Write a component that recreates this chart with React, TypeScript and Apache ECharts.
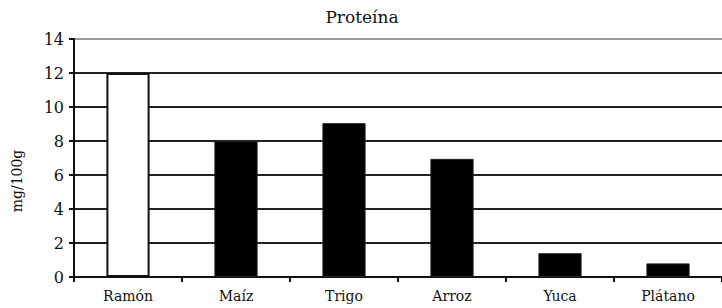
import React, { useEffect, useRef } from "react";
import * as echarts from "echarts";

const categories = ["Ramón", "Maíz", "Trigo", "Arroz", "Yuca", "Plátano"];
const values = [12, 8, 9.05, 6.95, 1.4, 0.8];
const yTicks = [0, 2, 4, 6, 8, 10, 12, 14];
const titleText = "Proteína";
const yName = "mg/100g";

export default function App() {
  const ref = useRef<HTMLDivElement>(null);
  useEffect(() => {
    document.body.style.margin = "0";
    const chart = echarts.init(ref.current!, undefined, { renderer: "svg" });
    const serif = "DejaVu Serif";
    chart.setOption({
      animation: false,
      backgroundColor: "#fff",
      title: {
        text: titleText,
        left: 357,
        textAlign: "center",
        top: 3,
        textStyle: { fontFamily: serif, fontSize: 17, fontWeight: "normal", color: "#111" },
      },
      graphic: [
        {
          type: "text",
          x: 17,
          y: 181,
          rotation: Math.PI / 2,
          style: {
            text: yName,
            fontFamily: serif,
            fontSize: 14,
            fill: "#111",
            align: "center",
            verticalAlign: "middle",
          },
        },
      ],
      grid: { left: 74, top: 39, bottom: 31, right: -5 },
      xAxis: {
        type: "category",
        data: categories,
        axisLine: { lineStyle: { color: "#111", width: 2 } },
        axisTick: { show: true, length: 5, lineStyle: { color: "#111", width: 2 } },
        axisLabel: { fontFamily: serif, fontSize: 14, color: "#111", margin: 12 },
      },
      yAxis: {
        type: "value",
        min: 0,
        max: 14,
        interval: 2,
        axisLine: { show: true, lineStyle: { color: "#111", width: 2 } },
        axisTick: { show: true, length: 5, lineStyle: { color: "#111", width: 2 } },
        axisLabel: {
          fontFamily: serif,
          fontSize: 16,
          color: "#111",
          margin: 10,
          formatter: (v: number) => (yTicks.includes(v) ? String(v) : ""),
        },
        splitLine: {
          show: true,
          lineStyle: {
            color: ["#222", "#222", "#222", "#222", "#222", "#222", "#222", "#999"],
            width: 2,
          },
        },
      },
      series: [
        {
          type: "bar",
          barWidth: "40%",
          data: values.map((v, i) => ({
            value: v,
            itemStyle:
              i === 0
                ? { color: "#fff", borderColor: "#111", borderWidth: 2 }
                : { color: "#000", borderColor: "#222", borderWidth: 1 },
          })),
        },
      ],
    });
    return () => chart.dispose();
  }, []);
  return <div ref={ref} style={{ width: 722, height: 308 }} />;
}
